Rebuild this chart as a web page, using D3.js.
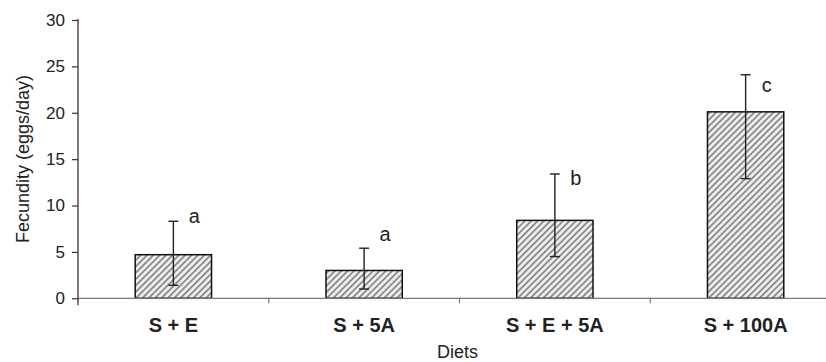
<!DOCTYPE html>
<html>
<head>
<meta charset="utf-8">
<script src="https://cdn.jsdelivr.net/npm/d3@7"></script>
<style>
  body { margin: 0; background: #fff; }
  svg { font-family: "Liberation Sans", Arial, sans-serif; }
</style>
</head>
<body>
<svg id="chart" width="826" height="362"></svg>
<script>
// data
var diets = ["S + E", "S + 5A", "S + E + 5A", "S + 100A"];
var fecundity = [4.7, 3.0, 8.4, 20.1];
var errUpper = [8.3, 5.4, 13.4, 24.1];
var errLower = [1.4, 1.0, 4.5, 12.9];
var letters = ["a", "a", "b", "c"];
var letterY = [8.8, 6.8, 12.9, 22.9];
var yTicks = [0, 5, 10, 15, 20, 25, 30];

var svg = d3.select("#chart");

var margin = { top: 20, right: -15, bottom: 64, left: 78 };
var width = 826, height = 362;

var x = d3.scaleBand()
    .domain(diets)
    .range([margin.left, width - margin.right])
    .paddingInner(0.6)
    .paddingOuter(0.3);

var y = d3.scaleLinear()
    .domain([0, 30])
    .range([298.3, margin.top]);

// hatch fill
var defs = svg.append("defs");
var pat = defs.append("pattern")
    .attr("id", "hatch")
    .attr("patternUnits", "userSpaceOnUse")
    .attr("width", 4.5).attr("height", 4.5)
    .attr("patternTransform", "rotate(45)");
pat.append("rect").attr("width", 4.5).attr("height", 4.5).attr("fill", "#eeeeee");
pat.append("rect").attr("x", 0).attr("width", 1.8).attr("height", 4.5).attr("fill", "#8c8c8c");

var data = diets.map(function (d, i) {
    return { diet: d, v: fecundity[i], hi: errUpper[i], lo: errLower[i], letter: letters[i], ly: letterY[i] };
});

// bars
svg.selectAll(".bar")
    .data(data)
    .enter().append("rect")
    .attr("class", "bar")
    .attr("x", d => x(d.diet))
    .attr("y", d => y(d.v))
    .attr("width", x.bandwidth())
    .attr("height", d => y(0) - y(d.v))
    .attr("fill", "url(#hatch)")
    .attr("stroke", "#111")
    .attr("stroke-width", 1.5);

// x axis line and ticks between categories
var gap = x.step() - x.bandwidth();
var xAxis = svg.append("g").attr("stroke", "#777").attr("stroke-width", 1.2);
xAxis.append("line")
    .attr("x1", margin.left).attr("x2", width)
    .attr("y1", y(0)).attr("y2", y(0));
xAxis.selectAll(".xt")
    .data(diets.slice(1))
    .enter().append("line")
    .attr("x1", d => x(d) - gap / 2)
    .attr("x2", d => x(d) - gap / 2)
    .attr("y1", y(0)).attr("y2", y(0) + 5);

// y axis
var yAxis = svg.append("g")
    .attr("transform", "translate(" + margin.left + ",0)")
    .call(d3.axisLeft(y).tickValues(yTicks).tickSize(6).tickPadding(7).tickSizeOuter(0));
yAxis.attr("font-size", 17).attr("font-family", "Liberation Sans, Arial, sans-serif");
yAxis.select(".domain").attr("stroke", "#333").attr("stroke-width", 1.3)
    .attr("d", "M0," + (y(30) - 1) + "V" + (y(0) + 7));
yAxis.selectAll(".tick line").attr("stroke", "#333").attr("stroke-width", 1.2);
yAxis.selectAll(".tick text").attr("fill", "#222");

// error bars
var eb = svg.selectAll(".err").data(data).enter().append("g")
    .attr("stroke", "#222").attr("stroke-width", 1.4);
eb.append("line")
    .attr("x1", d => x(d.diet) + x.bandwidth() / 2)
    .attr("x2", d => x(d.diet) + x.bandwidth() / 2)
    .attr("y1", d => y(d.hi)).attr("y2", d => y(d.lo));
eb.append("line")
    .attr("x1", d => x(d.diet) + x.bandwidth() / 2 - 5)
    .attr("x2", d => x(d.diet) + x.bandwidth() / 2 + 5)
    .attr("y1", d => y(d.hi)).attr("y2", d => y(d.hi));
eb.append("line")
    .attr("x1", d => x(d.diet) + x.bandwidth() / 2 - 5)
    .attr("x2", d => x(d.diet) + x.bandwidth() / 2 + 5)
    .attr("y1", d => y(d.lo)).attr("y2", d => y(d.lo));

// significance letters
svg.selectAll(".letter").data(data).enter().append("text")
    .attr("x", d => x(d.diet) + x.bandwidth() / 2 + 21)
    .attr("y", d => y(d.ly))
    .attr("dy", "0.3em")
    .attr("text-anchor", "middle")
    .attr("font-size", 20)
    .attr("fill", "#222")
    .text(d => d.letter);

// category labels
svg.selectAll(".cat").data(diets).enter().append("text")
    .attr("x", d => x(d) + x.bandwidth() / 2)
    .attr("y", 332)
    .attr("text-anchor", "middle")
    .attr("font-size", 20)
    .attr("font-weight", "bold")
    .attr("fill", "#222")
    .text(d => d);

// axis titles
svg.append("text")
    .attr("x", (margin.left + width - margin.right) / 2 - 2)
    .attr("y", 358)
    .attr("text-anchor", "middle")
    .attr("font-size", 18)
    .attr("fill", "#222")
    .text("Diets");

svg.append("text")
    .attr("transform", "translate(29,159) rotate(-90)")
    .attr("text-anchor", "middle")
    .attr("font-size", 18)
    .attr("fill", "#222")
    .text("Fecundity (eggs/day)");
</script>
</body>
</html>
